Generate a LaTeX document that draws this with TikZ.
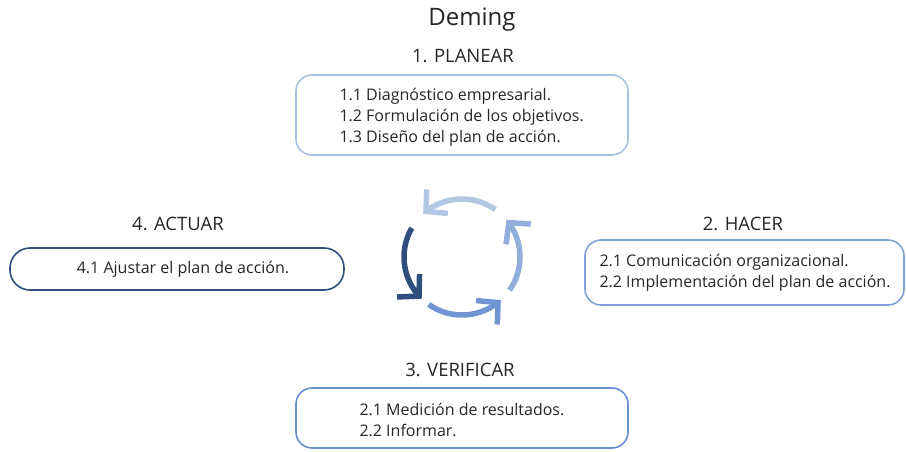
\documentclass[tikz,border=0pt]{standalone}
\usepackage{fontspec}
\setmainfont{Open Sans}
\usepackage{tikz}
\usetikzlibrary{arrows.meta,bending,positioning,calc}

\definecolor{planc}{HTML}{A9C1E0}
\definecolor{hacc}{HTML}{7FA1D5}
\definecolor{verc}{HTML}{6A8FD0}
\definecolor{actc}{HTML}{2F4E7E}

\begin{document}
\begin{tikzpicture}[x=1pt,y=1pt,
  every node/.style={font=\fontsize{16}{21}\selectfont, text=black!85},
  phase/.style={font=\fontsize{18.5}{21}\selectfont},
  stepbox/.style={draw, line width=1.6pt, rounded corners=16pt, inner sep=0pt},
  cyc/.style={line width=5.5pt, -{Straight Barb[length=15pt,width=32pt,line width=5.5pt,flex]}}]
\useasboundingbox (0,0) rectangle (906,451);

% Title
\node[font=\fontsize{24}{26}\selectfont] (title) at (472,431) {Deming};

% 1. Planear
\node[phase] (tplan) at (463,395) {1. PLANEAR};
\node[stepbox, draw=planc, minimum width=332pt, minimum height=80pt] (bplan) at (462,336) {};
\node[anchor=west, align=left] (xplan) at (336,334) {1.1 Diagnóstico empresarial.\\1.2 Formulación de los objetivos.\\1.3 Diseño del plan de acción.};

% 2. Hacer
\node[phase] (thac) at (743,227) {2. HACER};
\node[stepbox, draw=hacc, minimum width=319pt, minimum height=65pt] (bhac) at (744.5,178.5) {};
\node[anchor=west, align=left] (xhac) at (596,178.5) {2.1 Comunicación organizacional.\\2.2 Implementación del plan de acción.};

% 3. Verificar
\node[phase] (tver) at (460,81) {3. VERIFICAR};
\node[stepbox, draw=verc, minimum width=332pt, minimum height=60pt] (bver) at (462,33) {};
\node[anchor=west, align=left] (xver) at (356,31) {2.1 Medición de resultados.\\2.2 Informar.};

% 4. Actuar
\node[phase] (tact) at (178,227) {4. ACTUAR};
\node[stepbox, draw=actc, rounded corners=20pt, minimum width=334pt, minimum height=42pt] (bact) at (177,182) {};
\node (xact) at (183,182) {4.1 Ajustar el plan de acción.};

% Cycle
\coordinate (c) at (462,194);
\draw[cyc, draw=planc!90!white] ($(c)+(55:58)$) arc[start angle=55, end angle=132, radius=58];
\draw[cyc, draw=hacc!85!white] ($(c)+(-35:58)$) arc[start angle=-35, end angle=40, radius=58];
\draw[cyc, draw=verc!95!white] ($(c)+(-125:58)$) arc[start angle=-125, end angle=-48, radius=58];
\draw[cyc, draw=actc] ($(c)+(150:58)$) arc[start angle=150, end angle=226, radius=58];
\end{tikzpicture}
\end{document}
